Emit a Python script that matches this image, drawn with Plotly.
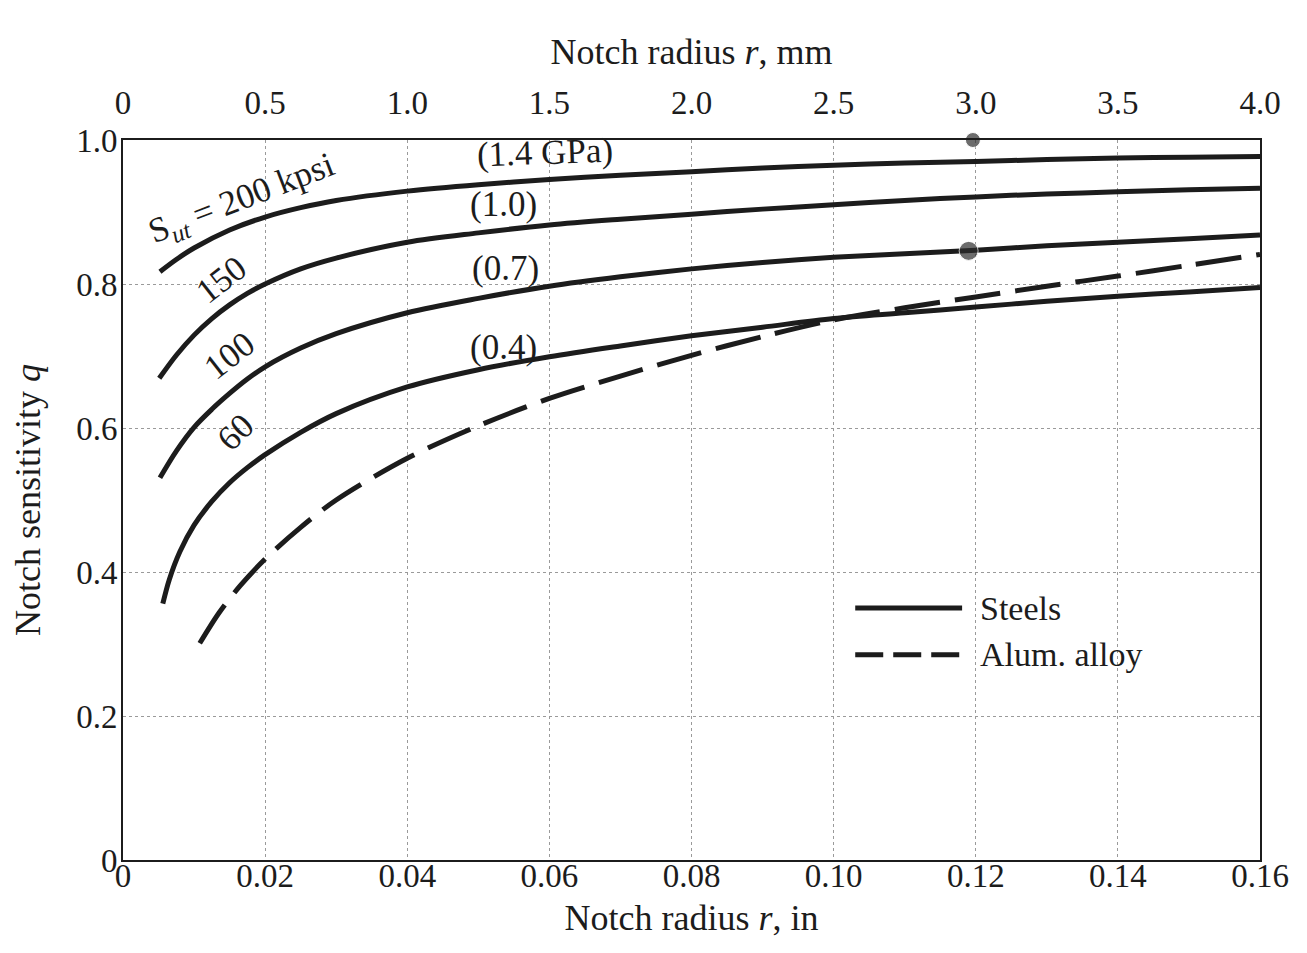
import plotly.graph_objects as go

# ---------------- data ----------------
# Notch radius r, in  ->  notch sensitivity q
r_200 = [0.0052, 0.0075, 0.010, 0.015, 0.020, 0.025, 0.030, 0.040, 0.050, 0.060, 0.070,
         0.080, 0.090, 0.100, 0.110, 0.120, 0.130, 0.140, 0.150, 0.160]
q_200 = [0.817, 0.834, 0.850, 0.875, 0.893, 0.906, 0.916, 0.929, 0.938, 0.945, 0.951,
         0.956, 0.961, 0.965, 0.968, 0.970, 0.973, 0.975, 0.976, 0.977]

r_150 = [0.0051, 0.0075, 0.010, 0.0125, 0.015, 0.0175, 0.020, 0.025, 0.030, 0.040, 0.050, 0.060,
         0.070, 0.080, 0.090, 0.100, 0.110, 0.120, 0.130, 0.140, 0.150, 0.160]
q_150 = [0.669, 0.701, 0.729, 0.752, 0.771, 0.787, 0.800, 0.821, 0.836, 0.858, 0.871, 0.882,
         0.890, 0.897, 0.904, 0.910, 0.916, 0.921, 0.925, 0.928, 0.931, 0.933]

r_100 = [0.0052, 0.0075, 0.010, 0.0125, 0.015, 0.0175, 0.020, 0.025, 0.030, 0.040, 0.050, 0.060,
         0.070, 0.080, 0.090, 0.100, 0.110, 0.120, 0.130, 0.140, 0.150, 0.160]
q_100 = [0.531, 0.568, 0.601, 0.626, 0.648, 0.668, 0.685, 0.711, 0.731, 0.760, 0.780, 0.797,
         0.810, 0.821, 0.830, 0.837, 0.842, 0.847, 0.853, 0.858, 0.863, 0.868]

r_60 = [0.0056, 0.0065, 0.008, 0.010, 0.0125, 0.015, 0.0175, 0.020, 0.025, 0.030, 0.040, 0.050,
        0.060, 0.070, 0.080, 0.090, 0.100, 0.110, 0.120, 0.130, 0.140, 0.150, 0.160]
q_60 = [0.356, 0.389, 0.428, 0.465, 0.498, 0.524, 0.545, 0.563, 0.594, 0.620, 0.657, 0.681,
        0.699, 0.714, 0.728, 0.740, 0.752, 0.760, 0.768, 0.776, 0.783, 0.789, 0.795]

r_al = [0.0108, 0.0135, 0.0165, 0.020, 0.025, 0.030, 0.040, 0.050, 0.060, 0.070, 0.080,
        0.090, 0.100, 0.110, 0.120, 0.130, 0.140, 0.150, 0.160]
q_al = [0.301, 0.343, 0.381, 0.418, 0.462, 0.500, 0.558, 0.603, 0.641, 0.672, 0.701,
        0.727, 0.750, 0.767, 0.782, 0.797, 0.811, 0.826, 0.841]

# marks on the scanned page
mark_r = [0.1196, 0.1190]
mark_q = [1.000, 0.846]

# axis ticks
in_ticks = [0, 0.02, 0.04, 0.06, 0.08, 0.10, 0.12, 0.14, 0.16]
in_labels = ["0", "0.02", "0.04", "0.06", "0.08", "0.10", "0.12", "0.14", "0.16"]
mm_ticks = [0, 0.5, 1.0, 1.5, 2.0, 2.5, 3.0, 3.5, 4.0]
mm_labels = ["0", "0.5", "1.0", "1.5", "2.0", "2.5", "3.0", "3.5", "4.0"]
q_ticks = [0, 0.2, 0.4, 0.6, 0.8, 1.0]
q_labels = ["0", "0.2", "0.4", "0.6", "0.8", "1.0"]

# curve labels: (r, q, text, angle)
curve_labels = [
    (0.0168, 0.918, "S<sub><i>ut</i></sub> = 200 kpsi", -21),
    (0.0139, 0.806, "150", -38),
    (0.0150, 0.701, "100", -38),
    (0.0158, 0.594, "60", -44),
    (0.0594, 0.983, "(1.4 GPa)", -2),
    (0.0535, 0.910, "(1.0)", 0),
    (0.0538, 0.822, "(0.7)", 0),
    (0.0535, 0.712, "(0.4)", 0),
]

FONT = "Liberation Serif, Times New Roman, serif"
INK = "#1c1c1c"

fig = go.Figure()

for rr, qq in [(r_200, q_200), (r_150, q_150), (r_100, q_100), (r_60, q_60)]:
    fig.add_trace(go.Scatter(x=rr, y=qq, mode="lines", name="Steels",
                             line=dict(color=INK, width=5, shape="spline", smoothing=0.9),
                             showlegend=False, hoverinfo="skip"))

fig.add_trace(go.Scatter(x=r_al, y=q_al, mode="lines", name="Alum. alloy",
                         line=dict(color=INK, width=5, shape="spline", smoothing=0.9,
                                   dash="46px,15px"),
                         showlegend=False, hoverinfo="skip"))

fig.add_trace(go.Scatter(x=mark_r, y=mark_q, mode="markers",
                         marker=dict(color="#2e2e2e", size=[15, 19]),
                         cliponaxis=False, showlegend=False, hoverinfo="skip"))

# invisible trace to carry the top (mm) axis
fig.add_trace(go.Scatter(x=mm_ticks, y=[None] * len(mm_ticks), xaxis="x2",
                         mode="lines", showlegend=False, hoverinfo="skip"))

for rx, qy, txt, ang in curve_labels:
    fig.add_annotation(x=rx, y=qy, xref="x", yref="y", text=txt, textangle=ang,
                       showarrow=False, font=dict(family=FONT, size=35, color=INK))

# legend drawn in paper space
legend_items = [("Steels", "solid", 0.350), ("Alum. alloy", "dash", 0.285)]
for label, dash, yy in legend_items:
    fig.add_shape(type="line", xref="paper", yref="paper", x0=0.644, x1=0.738, y0=yy, y1=yy,
                  line=dict(color=INK, width=5, dash="28px,10px" if dash == "dash" else "solid"))
    fig.add_annotation(xref="paper", yref="paper", x=0.752, y=yy, text=label,
                       xanchor="left", yanchor="middle",
                       showarrow=False, font=dict(family=FONT, size=34, color=INK))

grid = dict(showgrid=True, gridcolor="#9a9a9a", gridwidth=1, griddash="dot")

fig.update_layout(
    width=1299, height=945,
    margin=dict(l=115, r=47, t=132, b=93),
    paper_bgcolor="white", plot_bgcolor="white",
    font=dict(family=FONT, size=33, color=INK),
    showlegend=False,
    xaxis=dict(range=[0, 0.16], tickvals=in_ticks, ticktext=in_labels,
               showline=True, linecolor=INK, linewidth=2, mirror=True,
               ticks="", zeroline=False, ticklabelstandoff=-15,
               title=dict(text="Notch radius <i>r</i>, in", font=dict(size=36), standoff=12),
               **grid),
    xaxis2=dict(range=[0, 4], tickvals=mm_ticks, ticktext=mm_labels,
                overlaying="x", side="top", showgrid=False, zeroline=False,
                ticks="", ticklabelstandoff=18, showline=False,
                title=dict(text="Notch radius <i>r</i>, mm", font=dict(size=36), standoff=9)),
    yaxis=dict(range=[0, 1.0], tickvals=q_ticks, ticktext=q_labels,
               showline=True, linecolor=INK, linewidth=2, mirror=True,
               ticks="", zeroline=False, ticklabelstandoff=-3,
               title=dict(text="Notch sensitivity <i>q</i>", font=dict(size=36), standoff=31),
               **grid),
)

fig.write_html("out.html")
